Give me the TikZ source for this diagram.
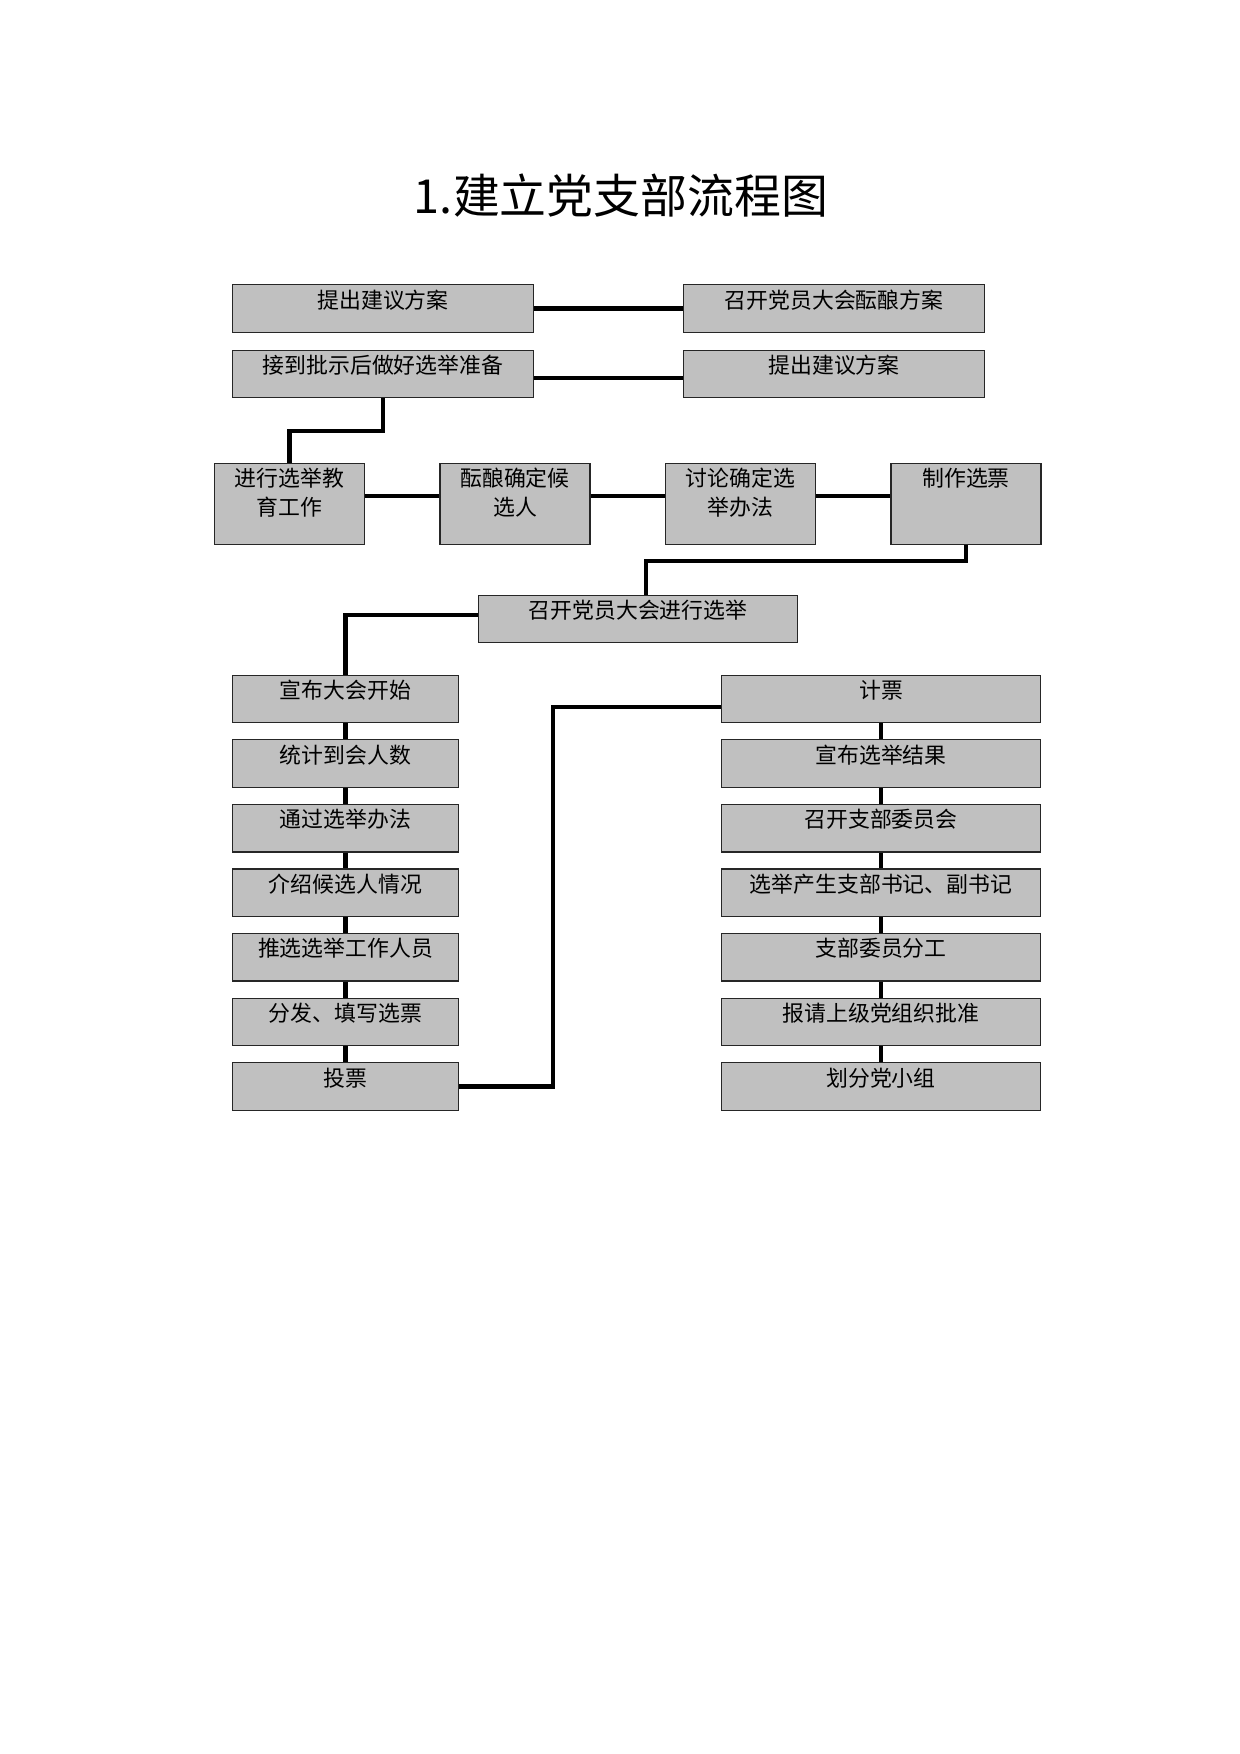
\documentclass[tikz,border=0pt]{standalone}
\usepackage{fontspec}
\setmainfont{Noto Sans CJK SC}
\usetikzlibrary{positioning}
\definecolor{boxgray}{RGB}{192,192,192}

\begin{document}
\begin{tikzpicture}[
  x=0.48pt, y=-0.48pt,
  font=\fontsize{10.5}{14}\selectfont,
  cell/.style={draw=black!85, line width=0.6pt, fill=boxgray, inner xsep=2pt, inner ysep=2pt,
    text height=9.2pt, text depth=9.6pt},
  tallcell/.style={cell, minimum width=72pt, text width=62pt, align=center, text depth=25.8pt},
  link/.style={line width=2pt},
  node distance=7.6pt
]
\useasboundingbox (0,0) rectangle (1240,1754);

% title
\node[font=\fontsize{22.5}{26}\selectfont] (title) at (621,196) {1.建立党支部流程图};

% first two rows
\node[cell, minimum width=144.4pt] (tiyi) at (383,308.5) {提出建议方案};
\node[cell, minimum width=144.4pt] (yunniangfa) at (834,308.5) {召开党员大会酝酿方案};
\node[cell, minimum width=144.4pt] (jiedao) at (383,374) {接到批示后做好选举准备};
\node[cell, minimum width=144.4pt] (tiyib) at (834,374) {提出建议方案};

% third row
\node[tallcell] (jiaoyu) at (289.5,504) {进行选举教\\育工作};
\node[tallcell] (yunniang) at (515,504) {酝酿确定候\\选人};
\node[tallcell] (taolun) at (740.5,504) {讨论确定选\\举办法};
\node[tallcell] (zhizuo) at (966,504) {制作选票};

% election meeting
\node[cell, minimum width=153pt] (xuanju) at (638,619) {召开党员大会进行选举};

% left column
\node[cell, minimum width=108.4pt] (kaishi) at (345.5,699) {宣布大会开始};
\node[cell, minimum width=108.4pt, below=of kaishi] (tongji) {统计到会人数};
\node[cell, minimum width=108.4pt, below=of tongji] (tongguo) {通过选举办法};
\node[cell, minimum width=108.4pt, below=of tongguo] (jieshao) {介绍候选人情况};
\node[cell, minimum width=108.4pt, below=of jieshao] (tuixuan) {推选选举工作人员};
\node[cell, minimum width=108.4pt, below=of tuixuan] (fafang) {分发、填写选票};
\node[cell, minimum width=108.4pt, below=of fafang] (toupiao) {投票};

% right column
\node[cell, minimum width=153.4pt] (jipiao) at (881,699) {计票};
\node[cell, minimum width=153.4pt, below=of jipiao] (xuanbu) {宣布选举结果};
\node[cell, minimum width=153.4pt, below=of xuanbu] (weiyuan) {召开支部委员会};
\node[cell, minimum width=153.4pt, below=of weiyuan] (shuji) {选举产生支部书记、副书记};
\node[cell, minimum width=153.4pt, below=of shuji] (fengong) {支部委员分工};
\node[cell, minimum width=153.4pt, below=of fengong] (baoqing) {报请上级党组织批准};
\node[cell, minimum width=153.4pt, below=of baoqing] (huafen) {划分党小组};

% connectors, top part
\draw[link] (tiyi.east) -- (yunniangfa.west);
\draw[link] ([yshift=-2pt]jiedao.east) -- ([yshift=-2pt]tiyib.west);
\draw[link] (jiedao.south) -- ++(0,33) -| (jiaoyu.north);
\draw[link] ([yshift=-15.8pt]jiaoyu.north east) -- ([yshift=-15.8pt]yunniang.north west);
\draw[link] ([yshift=-15.8pt]yunniang.north east) -- ([yshift=-15.8pt]taolun.north west);
\draw[link] ([yshift=-15.8pt]taolun.north east) -- ([yshift=-15.8pt]zhizuo.north west);
\draw[link] (zhizuo.south) -- ++(0,16) -| ([xshift=3.8pt]xuanju.north);
\draw[link] ([yshift=2pt]xuanju.west) -| (kaishi.north);

% connectors, columns
\draw[link] (kaishi) -- (tongji);
\draw[link] (tongji) -- (tongguo);
\draw[link] (tongguo) -- (jieshao);
\draw[link] (jieshao) -- (tuixuan);
\draw[link] (tuixuan) -- (fafang);
\draw[link] (fafang) -- (toupiao);
\draw[link] (jipiao) -- (xuanbu);
\draw[link] (xuanbu) -- (weiyuan);
\draw[link] (weiyuan) -- (shuji);
\draw[link] (shuji) -- (fengong);
\draw[link] (fengong) -- (baoqing);
\draw[link] (baoqing) -- (huafen);

% ballot to counting
\draw[link] (toupiao.east) -- ++(94,0) |- ([yshift=-3.8pt]jipiao.west);

\end{tikzpicture}
\end{document}
